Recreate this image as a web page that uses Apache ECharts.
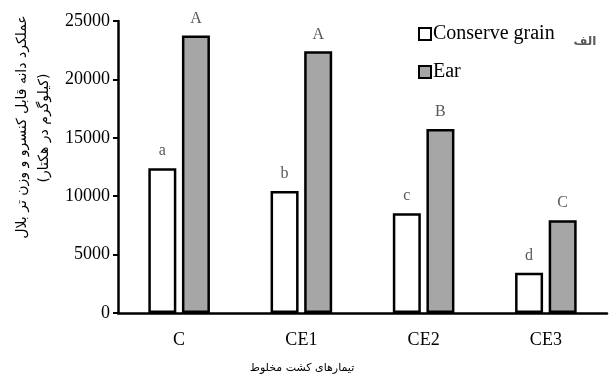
<!DOCTYPE html>
<html><head><meta charset="utf-8">
<script src="https://cdn.jsdelivr.net/npm/echarts@6/dist/echarts.min.js"></script>
<style>html,body{margin:0;padding:0;background:#fff}#c{width:614px;height:380px}</style>
</head><body><div id="c"></div>
<script>
const categories = ['C', 'CE1', 'CE2', 'CE3'];
const conserveGrain = [12400, 10450, 8550, 3450];
const ear = [23750, 22400, 15750, 7950];
const conserveLetters = ['a', 'b', 'c', 'd'];
const earLetters = ['A', 'A', 'B', 'C'];
const yTicks = [0, 5000, 10000, 15000, 20000, 25000];
const seriesNames = ['Conserve grain', 'Ear'];
const yTitle1 = 'عملکرد دانه قابل کنسرو و وزن تر بلال';
const yTitle2 = '(کیلوگرم در هکتار)';
const xTitle = 'تیمارهای کشت مخلوط';
const panelTag = 'الف';

const serif = 'Liberation Serif';
const arabic = 'DejaVu Sans';
const chart = echarts.init(document.getElementById('c'));
const labelStyle = {show: true, position: 'top', distance: 9, color: '#595959', fontFamily: serif, fontSize: 16};
chart.setOption({
  animation: false,
  grid: {left: 118, right: 7, top: 21, bottom: 67},
  legend: {
    orient: 'vertical', left: 413, top: 19, itemGap: 18,
    itemWidth: 12, itemHeight: 12, icon: 'rect',
    textStyle: {fontFamily: serif, fontSize: 20, color: '#000', padding: [0, 0, 0, -3]},
    data: seriesNames
  },
  xAxis: {
    type: 'category', data: categories,
    axisLine: {lineStyle: {color: '#000', width: 2.5}},
    axisTick: {show: false},
    axisLabel: {color: '#000', fontFamily: serif, fontSize: 18, margin: 18}
  },
  yAxis: {
    type: 'value', min: yTicks[0], max: yTicks[yTicks.length - 1], interval: 5000,
    axisLine: {show: true, lineStyle: {color: '#000', width: 2.5}},
    axisTick: {show: true, length: 5, lineStyle: {color: '#000', width: 2}},
    splitLine: {show: false},
    axisLabel: {color: '#000', fontFamily: serif, fontSize: 18, margin: 8, formatter: v => String(v)}
  },
  series: [
    {name: seriesNames[0], type: 'bar', data: conserveGrain, barWidth: 28, barGap: '20%',
     itemStyle: {color: '#fff', borderColor: '#000', borderWidth: 2.5},
     label: Object.assign({formatter: p => conserveLetters[p.dataIndex]}, labelStyle)},
    {name: seriesNames[1], type: 'bar', data: ear, barWidth: 28,
     itemStyle: {color: '#a6a6a6', borderColor: '#000', borderWidth: 2.5},
     label: Object.assign({formatter: p => earLetters[p.dataIndex]}, labelStyle)}
  ],
  graphic: [
    {type: 'text', x: 22, y: 127, rotation: Math.PI / 2,
     style: {text: yTitle1, fontFamily: arabic, fontSize: 14, fill: '#000', align: 'center', verticalAlign: 'middle'}},
    {type: 'text', x: 44, y: 128, rotation: Math.PI / 2,
     style: {text: yTitle2, fontFamily: arabic, fontSize: 14, fill: '#000', align: 'center', verticalAlign: 'middle'}},
    {type: 'text', x: 302, y: 368,
     style: {text: xTitle, fontFamily: arabic, fontSize: 11, fill: '#000', align: 'center', verticalAlign: 'middle'}},
    {type: 'text', x: 585, y: 42,
     style: {text: panelTag, fontFamily: arabic, fontSize: 12, fontWeight: 'bold', fill: '#595959', align: 'center', verticalAlign: 'middle'}}
  ]
});
</script></body></html>
